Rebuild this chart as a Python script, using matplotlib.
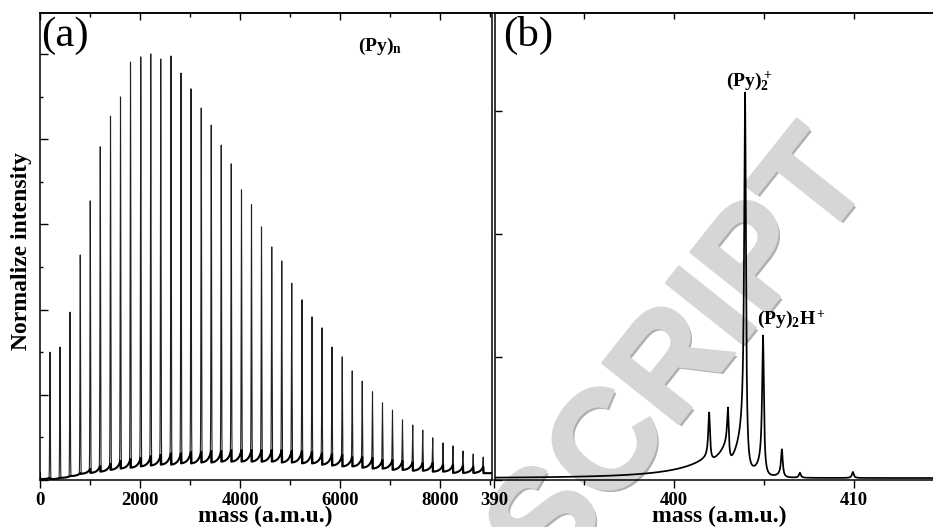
import numpy as np
import matplotlib
matplotlib.use('Agg')
import matplotlib.pyplot as plt
import matplotlib.patheffects as pe
from matplotlib.ticker import MultipleLocator, FixedLocator, NullFormatter

plt.rcParams['font.family'] = ['Liberation Serif', 'DejaVu Serif']
plt.rcParams['font.weight'] = 'bold'
plt.rcParams['mathtext.fontset'] = 'custom'
plt.rcParams['mathtext.rm'] = 'Liberation Serif:bold'
plt.rcParams['mathtext.bf'] = 'Liberation Serif:bold'
plt.rcParams['mathtext.it'] = 'Liberation Serif:bold'

# ---------------- Panel (a): (Py)n cluster distribution ----------------
peak_mass_a = [200, 400, 600, 805, 1005, 1205, 1410, 1610, 1810, 2015,
               2215, 2415, 2620, 2820, 3020, 3225, 3425, 3625, 3825, 4030,
               4230, 4430, 4635, 4835, 5035, 5240, 5440, 5640, 5840, 6045,
               6245, 6445, 6650, 6850, 7050, 7250, 7455, 7655, 7855, 8060,
               8260, 8460, 8665, 8865]
peak_int_a = [0.300, 0.312, 0.394, 0.528, 0.655, 0.782, 0.854, 0.899, 0.981, 0.993,
              1.000, 0.988, 0.995, 0.955, 0.918, 0.873, 0.833, 0.786, 0.742, 0.681,
              0.646, 0.594, 0.547, 0.514, 0.462, 0.423, 0.383, 0.357, 0.312, 0.289,
              0.256, 0.232, 0.207, 0.181, 0.164, 0.141, 0.129, 0.117, 0.099, 0.087,
              0.080, 0.068, 0.061, 0.054]
valley_a = [0.002, 0.002, 0.005, 0.009, 0.014, 0.016, 0.019, 0.023, 0.026, 0.028,
            0.031, 0.033, 0.035, 0.035, 0.038, 0.038, 0.040, 0.040, 0.042, 0.042,
            0.042, 0.042, 0.042, 0.042, 0.040, 0.040, 0.038, 0.038, 0.035, 0.033,
            0.031, 0.031, 0.028, 0.026, 0.026, 0.023, 0.023, 0.021, 0.021, 0.019,
            0.019, 0.016, 0.016, 0.016]
tail_a = [0.005, 0.005, 0.009, 0.016, 0.026, 0.033, 0.038, 0.045, 0.049, 0.052,
          0.056, 0.059, 0.063, 0.063, 0.066, 0.066, 0.068, 0.068, 0.070, 0.070,
          0.070, 0.070, 0.070, 0.070, 0.068, 0.068, 0.066, 0.063, 0.061, 0.059,
          0.054, 0.054, 0.052, 0.047, 0.047, 0.045, 0.042, 0.040, 0.040, 0.035,
          0.035, 0.033, 0.031, 0.031]
xticks_a = [0, 2000, 4000, 6000, 8000]

# ---------------- Panel (b): zoom around the dimer ----------------
peak_mass_b = [401.95, 403.0, 403.95, 404.95, 406.0, 407.0, 409.95]
peak_int_b = [0.545, 0.577, 3.14, 1.163, 0.244, 0.057, 0.065]
tail_amp_b = [0.065, 0.203, 0.488, 0.163, 0.033, 0.0, 0.0]
tail_len_b = [4.0, 1.5, 0.6, 0.4, 0.3, 0.3, 0.3]
baseline_b = 0.016
xticks_b = [390, 400, 410]

W, H = 933, 527
fig = plt.figure(figsize=(W / 100, H / 100), dpi=100)

def fx(px):
    return px / W

def fy(py):
    return 1 - py / H

# Watermark (behind everything)
fig.text(fx(712), fy(382), 'SCRIPT', rotation=51.5, rotation_mode='anchor',
         ha='center', va='baseline', fontsize=102, color='#d6d6d6',
         family='Liberation Sans', fontweight='bold', zorder=-1,
         path_effects=[pe.SimplePatchShadow(offset=(2, -2), shadow_rgbFace='#b0b0b0', alpha=1.0),
                       pe.Stroke(linewidth=2, foreground='#d6d6d6'), pe.Normal()])

axL = fig.add_axes([fx(40), fy(480), fx(491.5) - fx(40), fy(13) - fy(480)])
axR = fig.add_axes([fx(494.5), fy(480), fx(945) - fx(494.5), fy(13) - fy(480)])
for ax in (axL, axR):
    ax.set_facecolor('none')
    for s in ax.spines.values():
        s.set_linewidth(1.1)

# ---- build spectrum (a)
m_a = np.arange(0.0, 9030.0, 1.0)
bg_a = np.full_like(m_a, valley_a[-1])
prev = 0.0
for pm, b, t in zip(peak_mass_a, valley_a, tail_a):
    sel = (m_a > prev) & (m_a <= pm)
    bg_a[sel] = b + (t - b) * np.exp(-(pm - m_a[sel]) / 60.0)
    prev = pm
y_a = bg_a.copy()
for pm, h, t in zip(peak_mass_a, peak_int_a, tail_a):
    y_a += (h - t) * np.exp(-0.5 * ((m_a - pm) / 6.0) ** 2)
axL.plot(m_a, y_a, color='#202020', lw=0.8)
axL.plot(m_a, bg_a, color='black', lw=1.5)
axL.set_xlim(0, 9030)
axL.set_ylim(0, 1.096)
axL.xaxis.set_major_locator(FixedLocator(xticks_a))
axL.xaxis.set_minor_locator(MultipleLocator(1000))
axL.yaxis.set_major_locator(MultipleLocator(0.2))
axL.yaxis.set_minor_locator(MultipleLocator(0.1))
axL.yaxis.set_major_formatter(NullFormatter())
axL.tick_params(axis='x', which='major', direction='out', length=6, width=1, labelsize=13.5, pad=2.5)
axL.tick_params(axis='x', which='minor', direction='out', length=3.5, width=1)
axL.tick_params(axis='y', which='major', direction='in', length=5.5, width=1)
axL.tick_params(axis='y', which='minor', direction='in', length=2.5, width=1)
axL.tick_params(right=False, top=False, which='both')
tL = axL.secondary_xaxis('top')
tL.xaxis.set_major_locator(FixedLocator(xticks_a))
tL.xaxis.set_minor_locator(MultipleLocator(1000))
tL.xaxis.set_major_formatter(NullFormatter())
tL.tick_params(which='major', direction='in', length=5, width=1)
tL.tick_params(which='minor', direction='in', length=3, width=1)
tL.spines['top'].set_linewidth(1.1)

# ---- build spectrum (b)
m_b = np.arange(390.0, 415.1, 0.004)
bg_b = np.full_like(m_b, baseline_b)
for pm, a, lam in zip(peak_mass_b, tail_amp_b, tail_len_b):
    left = m_b <= pm
    bg_b[left] += a * np.exp(-(pm - m_b[left]) / lam)
    bg_b[~left] += a * np.exp(-(m_b[~left] - pm) / 0.05)
y_b = bg_b.copy()
gam = 0.06
for pm, h in zip(peak_mass_b, peak_int_b):
    amp = h - np.interp(pm, m_b, bg_b)
    y_b += amp * gam ** 2 / ((m_b - pm) ** 2 + gam ** 2)
axR.plot(m_b, y_b, color='black', lw=1.25)
axR.set_xlim(390, 415.08)
axR.set_ylim(0, 3.797)
axR.xaxis.set_major_locator(FixedLocator(xticks_b))
axR.xaxis.set_minor_locator(MultipleLocator(5))
axR.yaxis.set_major_locator(MultipleLocator(1))
axR.yaxis.set_major_formatter(NullFormatter())
axR.tick_params(axis='x', which='major', direction='out', length=6, width=1, labelsize=13.5, pad=2.5)
axR.tick_params(axis='x', which='minor', direction='out', length=3.5, width=1)
axR.tick_params(axis='y', which='major', direction='in', length=5, width=1)
axR.tick_params(right=False, top=False, which='both')
axR.spines['right'].set_visible(False)
tR = axR.secondary_xaxis('top')
tR.xaxis.set_major_locator(FixedLocator([395, 400, 405, 410]))
tR.xaxis.set_major_formatter(NullFormatter())
tR.tick_params(which='major', direction='in', length=4, width=1)
tR.spines['top'].set_linewidth(1.1)

for ax in (axL, axR):
    for lbl in ax.get_xticklabels():
        lbl.set_fontweight('bold')

# Labels
fig.text(fx(22), fy(251), 'Normalize intensity', rotation=90, ha='center', va='center',
         fontsize=17, fontweight='bold')
fig.text(fx(265), fy(516), 'mass (a.m.u.)', ha='center', va='center', fontsize=17, fontweight='bold')
fig.text(fx(719), fy(516), 'mass (a.m.u.)', ha='center', va='center', fontsize=17, fontweight='bold')

fig.text(fx(41), fy(46), '(a)', ha='left', va='baseline', fontsize=31, fontweight='normal')
fig.text(fx(503), fy(46), '(b)', ha='left', va='baseline', fontsize=31, fontweight='normal')

fig.text(fx(358), fy(51), r'$\mathbf{(Py)_n}$', ha='left', va='baseline', fontsize=14)
fig.text(fx(726), fy(86), r'$\mathbf{(Py)_2^+}$', ha='left', va='baseline', fontsize=14)
fig.text(fx(757), fy(324), r'$\mathbf{(Py)_2H^+}$', ha='left', va='baseline', fontsize=14)

fig.savefig('out.png', dpi=100)
